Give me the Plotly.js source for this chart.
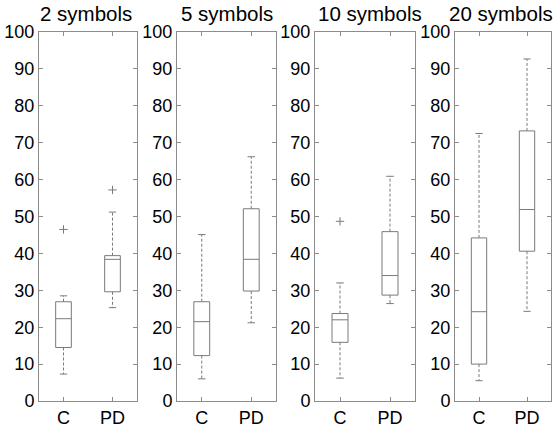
<!DOCTYPE html>
<html>
<head>
<meta charset="utf-8">
<script src="https://cdn.plot.ly/plotly-3.0.1.min.js"></script>
<style>html,body{margin:0;padding:0;background:#fff;}#chart{width:554px;height:427px;}</style>
</head>
<body>
<div id="chart"></div>
<script>
// ---- data ----
const panelTitles = ['2 symbols', '5 symbols', '10 symbols', '20 symbols'];
const groups = ['C', 'PD'];
const yTicks = [0, 10, 20, 30, 40, 50, 60, 70, 80, 90, 100];
// per panel: [C, PD]
const lowerWhisker = [[7.3, 25.3], [6.0, 21.2], [6.2, 26.4], [5.5, 24.3]];
const q1Values     = [[14.5, 29.6], [12.3, 29.8], [15.9, 28.7], [10.0, 40.6]];
const medianValues = [[22.3, 38.4], [21.5, 38.4], [22.0, 34.0], [24.2, 51.9]];
const q3Values     = [[26.9, 39.4], [26.9, 52.1], [23.7, 45.9], [44.2, 73.2]];
const upperWhisker = [[28.5, 51.2], [45.1, 66.2], [32.0, 60.9], [72.5, 92.7]];
const outlierValues = [[[46.5], [57.2]], [[], []], [[48.7], []], [[], []]];

// ---- style ----
const GREY = '#7a7a7a';
const AXIS = '#8c8c8c';
const FONT = 'Liberation Sans, Arial, sans-serif';
const boxHalf = 0.16, capHalf = 0.075;
const xDomains = [[0.0704, 0.2473], [0.3195, 0.4982], [0.5686, 0.7491], [0.8213, 0.9946]];
const yDomain = [0.0609, 0.925];
const titleCenters = [0.155, 0.41, 0.668, 0.905];

const traces = [];
const layout = {
  width: 554, height: 427,
  margin: {l: 0, r: 0, t: 0, b: 0},
  paper_bgcolor: '#fff', plot_bgcolor: '#fff',
  showlegend: false,
  font: {family: FONT, color: '#000'},
  annotations: []
};

panelTitles.forEach((title, p) => {
  const sfx = p === 0 ? '' : String(p + 1);
  const xa = 'x' + sfx, ya = 'y' + sfx;
  const bx = [], by = [], wx = [], wy = [], cx = [], cy = [], mx = [], my = [], ox = [], oy = [];
  groups.forEach((g, i) => {
    const xi = i + 1;
    bx.push(xi - boxHalf, xi + boxHalf, xi + boxHalf, xi - boxHalf, xi - boxHalf, null);
    by.push(q1Values[p][i], q1Values[p][i], q3Values[p][i], q3Values[p][i], q1Values[p][i], null);
    wx.push(xi, xi, null, xi, xi, null);
    wy.push(q3Values[p][i], upperWhisker[p][i], null, q1Values[p][i], lowerWhisker[p][i], null);
    cx.push(xi - capHalf, xi + capHalf, null, xi - capHalf, xi + capHalf, null);
    cy.push(upperWhisker[p][i], upperWhisker[p][i], null, lowerWhisker[p][i], lowerWhisker[p][i], null);
    mx.push(xi - boxHalf, xi + boxHalf, null);
    my.push(medianValues[p][i], medianValues[p][i], null);
    outlierValues[p][i].forEach(v => { ox.push(xi); oy.push(v); });
  });
  const common = {xaxis: xa, yaxis: ya, hoverinfo: 'skip', type: 'scatter'};
  traces.push(Object.assign({x: wx, y: wy, mode: 'lines', line: {color: GREY, width: 1, dash: '3px,2px'}}, common));
  traces.push(Object.assign({x: cx, y: cy, mode: 'lines', line: {color: GREY, width: 1}}, common));
  traces.push(Object.assign({x: bx, y: by, mode: 'lines', line: {color: GREY, width: 1}}, common));
  traces.push(Object.assign({x: mx, y: my, mode: 'lines', line: {color: GREY, width: 1}}, common));
  traces.push(Object.assign({x: ox, y: oy, mode: 'markers', marker: {symbol: 'cross-thin-open', size: 6, color: GREY, line: {color: GREY, width: 1}}}, common));

  layout['xaxis' + sfx] = {
    domain: xDomains[p], anchor: ya, range: [0.5, 2.5],
    tickmode: 'array', tickvals: groups.map((g, i) => i + 1), ticktext: groups,
    ticks: 'inside', ticklen: 4, tickcolor: AXIS, tickwidth: 1,
    showline: true, linecolor: AXIS, linewidth: 1, mirror: 'ticks',
    showgrid: false, zeroline: false, fixedrange: true,
    tickfont: {size: 18, color: '#000', family: FONT}
  };
  layout['yaxis' + sfx] = {
    domain: yDomain, anchor: xa, range: [0, 100],
    tickmode: 'array', tickvals: yTicks, ticktext: yTicks.map(String),
    ticks: 'inside', ticklen: 4, tickcolor: AXIS, tickwidth: 1,
    showline: true, linecolor: AXIS, linewidth: 1, mirror: 'ticks',
    showgrid: false, zeroline: false, fixedrange: true,
    tickfont: {size: 18, color: '#000', family: FONT}
  };
  layout.annotations.push({
    text: title, xref: 'paper', yref: 'paper',
    x: titleCenters[p], y: 0.968,
    xanchor: 'center', yanchor: 'middle', showarrow: false,
    font: {size: 20.5, color: '#000', family: FONT}
  });
});

Plotly.newPlot('chart', traces, layout, {displayModeBar: false, staticPlot: true});
</script>
</body>
</html>
